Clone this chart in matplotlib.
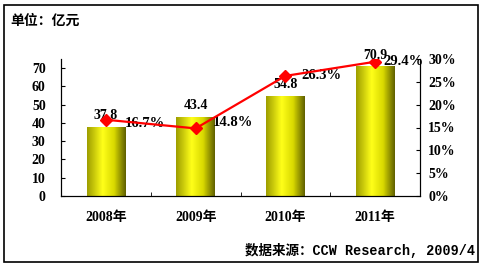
import numpy as np
import matplotlib.pyplot as plt
from matplotlib.colors import LinearSegmentedColormap
from matplotlib.patches import Rectangle

years = ['2008年', '2009年', '2010年', '2011年']
revenue = [37.8, 43.4, 54.8, 70.9]
growth = [16.7, 14.8, 26.3, 29.4]
growth_dx = [19, 17, 16, 8]
growth_dy = [-4, 6, 0, 0]

plt.rcParams['font.family'] = ['Liberation Serif', 'Noto Sans CJK SC']
plt.rcParams['font.weight'] = 'bold'

fig = plt.figure(figsize=(4.82, 2.64), dpi=100)
fig.patches.append(Rectangle((4 / 482, 2 / 264), 474 / 482, 257 / 264, transform=fig.transFigure,
                             fill=False, edgecolor='black', linewidth=1.2))

ax = fig.add_axes([61 / 482, 68 / 264, 359 / 482, 137 / 264])
ax2 = ax.twinx()

cmap = LinearSegmentedColormap.from_list('gold', [(0, (0.62, 0.62, 0.0)), (0.4, (1.0, 1.0, 0.1)),
                                                  (0.7, (0.85, 0.85, 0.0)), (1, (0.38, 0.38, 0.0))])
grad = np.linspace(0, 1, 64).reshape(1, -1)
x = np.arange(len(years))
w = 0.43
bars = ax.bar(x, revenue, width=w, color='none')
for b in bars:
    x0, y0, bw, bh = b.get_x(), b.get_y(), b.get_width(), b.get_height()
    im = ax.imshow(grad, cmap=cmap, aspect='auto', extent=[x0, x0 + bw, y0, y0 + bh], zorder=1)
    im.set_clip_path(b)
for xi, v in zip(x, revenue):
    ax.annotate(f'{v}', (xi, v), xytext=(0, 8), textcoords='offset points',
                ha='center', va='center', fontsize=10, fontweight='bold')

ax.set_xlim(-0.5, 3.5)
ax.set_ylim(0, 75)
ax.set_yticks(range(0, 71, 10))
ax.set_xticks(x)
ax.set_xticklabels(years)
ax.set_xticks([0.5, 1.5, 2.5], minor=True)
ax.tick_params(axis='x', which='major', length=0, pad=11, labelsize=10)
ax.tick_params(axis='x', which='minor', direction='in', length=3)
ax.tick_params(axis='y', direction='in', length=3, pad=11, labelsize=10)
ax.spines['top'].set_visible(False)

ax2.plot(x, growth, color='#ff0000', linewidth=1.6, marker='D', markersize=6,
         markerfacecolor='#ff0000', markeredgecolor='#ff0000', zorder=5)
for xi, g, dx, dy in zip(x, growth, growth_dx, growth_dy):
    ax2.annotate(f'{g}%', (xi, g), xytext=(dx * 0.72, dy * 0.72), textcoords='offset points',
                 ha='left', va='center', fontsize=10.5, fontweight='bold')
ax2.set_ylim(0, 30)
ax2.set_yticks(range(0, 31, 5))
ax2.set_yticklabels([f'{t}%' for t in range(0, 31, 5)])
ax2.tick_params(axis='y', direction='in', length=3, pad=6, labelsize=10)
ax2.spines['top'].set_visible(False)
ax.set_zorder(1)
ax2.set_zorder(2)
ax2.patch.set_visible(False)

fig.text(10 / 482, 1 - 21 / 264, '单位：亿元', ha='left', va='center', fontsize=10,
         fontweight='bold', family=['Noto Sans CJK SC'])
fig.text(475 / 482, 1 - 250 / 264, '数据来源：CCW Research, 2009/4', ha='right', va='center',
         fontsize=9.75, fontweight='bold', family=['Liberation Mono', 'Noto Sans CJK SC'])

fig.savefig('out.png', dpi=100)
